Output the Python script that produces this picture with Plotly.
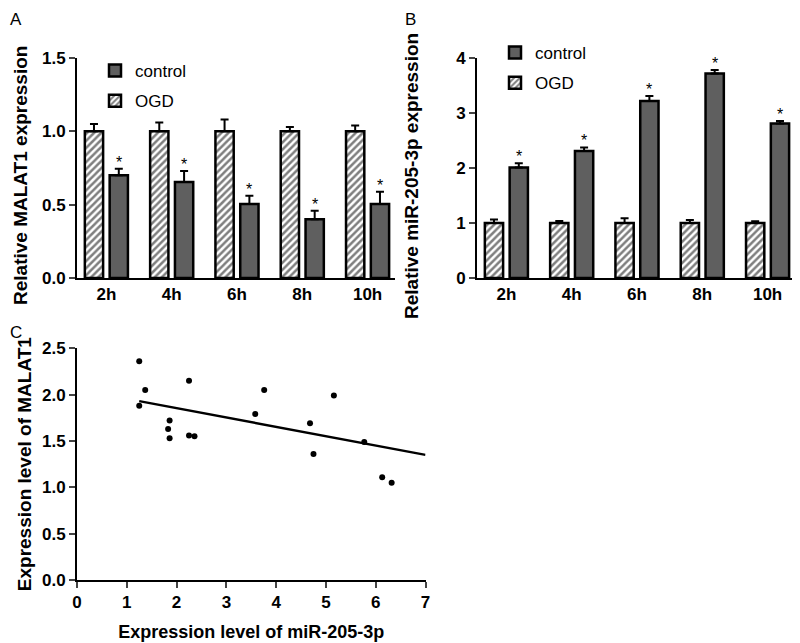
import plotly.graph_objects as go

# ---------------- data ----------------
timepoints = ["2h", "4h", "6h", "8h", "10h"]

a_ogd = [1.0, 1.0, 1.0, 1.0, 1.0]
a_ogd_err = [0.05, 0.06, 0.08, 0.03, 0.04]
a_control = [0.70, 0.655, 0.505, 0.40, 0.505]
a_control_err = [0.045, 0.075, 0.055, 0.058, 0.083]

b_ogd = [1.0, 1.0, 1.0, 1.0, 1.0]
b_ogd_err = [0.065, 0.035, 0.085, 0.055, 0.03]
b_control = [2.01, 2.31, 3.22, 3.72, 2.81]
b_control_err = [0.075, 0.065, 0.09, 0.06, 0.045]

mir_x = [1.25, 1.25, 1.37, 2.25, 1.86, 1.83, 1.86, 2.25, 2.36, 3.58, 3.76, 5.16, 4.68, 4.75, 5.77, 6.13, 6.32]
malat_y = [2.36, 1.88, 2.05, 2.15, 1.72, 1.63, 1.53, 1.56, 1.55, 1.79, 2.05, 1.99, 1.69, 1.36, 1.49, 1.11, 1.05]

# regression line as drawn in the figure (end points)
fit_x = [1.25, 7.0]
fit_y = [1.93, 1.35]

a_yticks = [0.0, 0.5, 1.0, 1.5]
b_yticks = [0, 1, 2, 3, 4]
c_xticks = [0, 1, 2, 3, 4, 5, 6, 7]
c_yticks = [0.0, 0.5, 1.0, 1.5, 2.0, 2.5]

# ---------------- style ----------------
W, H = 800, 643
PAGE_OFFSET = 8  # default body margin of the html page
FONT = "Liberation Sans, Arial, sans-serif"
DARK = "#5f5f5f"
BAR_W = 0.28
CENTER = 0.19
idx = list(range(len(timepoints)))


def px_x(p):
    return (p - PAGE_OFFSET) / W


def px_y(p):
    return 1 - (p - PAGE_OFFSET) / H


tickfont = dict(family=FONT, size=17, color="black", weight="bold")
titlefont = dict(family=FONT, size=19, color="black", weight="bold")

fig = go.Figure()


def add_bars(ogd, ogd_err, ctrl, ctrl_err, xa, ya, legend):
    fig.add_trace(go.Bar(
        x=idx, y=ctrl, name="control", xaxis=xa, yaxis=ya, legend=legend,
        legendgroup=legend + "ctrl",
        width=BAR_W, offset=CENTER - BAR_W / 2,
        marker=dict(color=DARK, line=dict(color="black", width=2.5)),
        error_y=dict(type="data", array=ctrl_err, arrayminus=[0] * len(ctrl),
                     symmetric=False, color="black", thickness=2, width=4),
    ))
    fig.add_trace(go.Bar(
        x=idx, y=ogd, name="OGD", xaxis=xa, yaxis=ya, legend=legend,
        legendgroup=legend + "ogd",
        width=BAR_W, offset=-CENTER - BAR_W / 2,
        marker=dict(color="white", line=dict(color="black", width=2.5),
                    pattern=dict(shape="/", fgcolor="black", bgcolor="white",
                                 size=5, solidity=0.5, fillmode="overlay")),
        error_y=dict(type="data", array=ogd_err, arrayminus=[0] * len(ogd),
                     symmetric=False, color="black", thickness=2, width=4),
    ))
    for i, (v, e) in enumerate(zip(ctrl, ctrl_err)):
        fig.add_annotation(x=i + CENTER, y=v + e, xref=xa, yref=ya, text="*",
                           showarrow=False, yanchor="bottom", yshift=-4,
                           font=dict(family=FONT, size=16, color="black"))


add_bars(a_ogd, a_ogd_err, a_control, a_control_err, "x", "y", "legend")
add_bars(b_ogd, b_ogd_err, b_control, b_control_err, "x2", "y2", "legend2")

# scatter + regression
fig.add_trace(go.Scatter(x=mir_x, y=malat_y, mode="markers", xaxis="x3", yaxis="y3",
                         marker=dict(color="black", size=6), showlegend=False))
fig.add_trace(go.Scatter(x=fit_x, y=fit_y, mode="lines",
                         xaxis="x3", yaxis="y3", line=dict(color="black", width=2.5),
                         showlegend=False))

axis_common = dict(showline=True, linecolor="black", linewidth=2, showgrid=False,
                   zeroline=False, tickfont=tickfont, fixedrange=True, automargin=False)

bar_x = dict(axis_common, tickvals=idx, ticktext=timepoints, ticks="",
             range=[-0.45, 4.42])

legend_common = dict(xanchor="left", yanchor="top", traceorder="grouped",
                     tracegroupgap=5, bgcolor="rgba(0,0,0,0)", itemclick=False,
                     font=dict(family=FONT, size=17, color="black"))

fig.update_layout(
    width=W, height=H, margin=dict(l=0, r=0, t=0, b=0, autoexpand=False),
    paper_bgcolor="white", plot_bgcolor="white",
    font=dict(family=FONT, color="black"),
    barmode="overlay",
    xaxis=dict(bar_x, domain=[px_x(77), px_x(395)], anchor="y"),
    yaxis=dict(axis_common, domain=[px_y(278), px_y(58)], anchor="x",
               range=[0, 1.5], tickvals=a_yticks, tickformat=".1f",
               ticks="outside", ticklen=6, tickwidth=2),
    xaxis2=dict(bar_x, domain=[px_x(477), px_x(795)], anchor="y2"),
    yaxis2=dict(axis_common, domain=[px_y(278), px_y(58)], anchor="x2",
                range=[0, 4], tickvals=b_yticks, tickformat="d",
                ticks="outside", ticklen=6, tickwidth=2),
    xaxis3=dict(axis_common, domain=[px_x(77), px_x(425.5)], anchor="y3",
                range=[0, 7], tickvals=c_xticks, tickformat="d",
                ticks="outside", ticklen=6, tickwidth=2,
                title=dict(text="Expression level of miR-205-3p", font=dict(titlefont, size=18),
                           standoff=14)),
    yaxis3=dict(axis_common, domain=[px_y(580), px_y(348.3)], anchor="x3",
                range=[0, 2.5], tickvals=c_yticks, tickformat=".1f",
                ticks="outside", ticklen=6, tickwidth=2,
                title=dict(text="Expression level of MALAT1", font=titlefont, standoff=5)),
    legend=dict(legend_common, x=px_x(95), y=px_y(53)),
    legend2=dict(legend_common, x=px_x(495), y=px_y(35)),
)

# y-axis titles of the bar panels
for text, xp, yp in [("Relative MALAT1 expression", 20, 176),
                     ("Relative miR-205-3p expression", 411, 176)]:
    fig.add_annotation(x=px_x(xp), y=px_y(yp), xref="paper", yref="paper", text=text,
                       showarrow=False, textangle=-90, xanchor="center", yanchor="middle",
                       font=titlefont)

for label, xp, yp in [("A", 8, 8), ("B", 403, 8), ("C", 8, 321)]:
    fig.add_annotation(x=px_x(xp), y=px_y(yp), xref="paper", yref="paper", text=label,
                       showarrow=False, xanchor="left", yanchor="top",
                       font=dict(family=FONT, size=17, color="black"))

fig.write_html("out.html")
